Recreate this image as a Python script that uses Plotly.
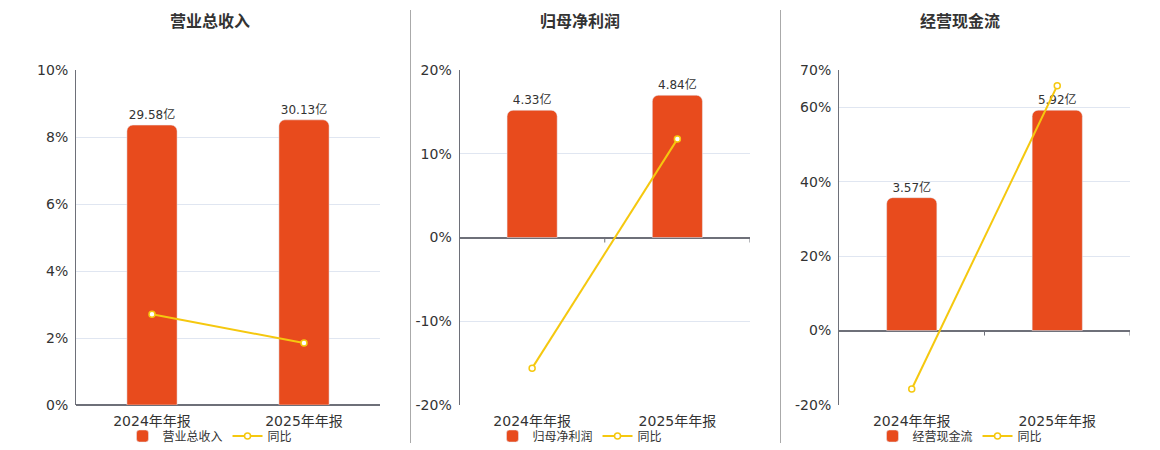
import plotly.graph_objects as go

# data
periods = ["2024年年报", "2025年年报"]

titles = ["营业总收入", "归母净利润", "经营现金流"]
bar_values = [
    [29.58, 30.13],   # 营业总收入 (亿)
    [4.33, 4.84],     # 归母净利润 (亿)
    [3.57, 5.92],     # 经营现金流 (亿)
]
yoy_values = [
    [2.71, 1.85],     # 同比 %
    [-15.6, 11.75],
    [-15.7, 65.8],
]
pct_ticks = [
    [0, 2, 4, 6, 8, 10],
    [-20, -10, 0, 10, 20],
    [-20, 0, 20, 40, 60, 70],
]
pct_ranges = [[0, 10], [-20, 20], [-20, 70]]
# hidden bar axes, scaled so zero lines up with the % axis
bar_ranges = [[0, 35.4], [-5.7, 5.7], [-2.0, 7.0]]

BAR_COLOR = "#E84B1D"
LINE_COLOR = "#F5C80F"
AXIS_COLOR = "#6E7079"
GRID_COLOR = "#E0E6F1"
TEXT_COLOR = "#333333"
FONT = "DejaVu Sans, Noto Sans CJK SC, sans-serif"

W, H = 1160, 450
x_domains = [[76 / W, 380 / W], [459.5 / W, 750 / W], [839 / W, 1130 / W]]
y_domain = [45 / H, 380 / H]
centers = [210 / W, 580 / W, 960 / W]
bar_widths = [0.33, 0.345, 0.345]

fig = go.Figure()
layout = {}
shapes = []
annotations = []

for i in range(3):
    xa = "x" if i == 0 else f"x{i + 1}"
    ya_bar = f"y{2 * i + 1}" if i > 0 else "y"
    ya_line = f"y{2 * i + 2}"
    leg = "legend" if i == 0 else f"legend{i + 1}"

    fig.add_trace(go.Bar(
        x=periods,
        y=bar_values[i],
        text=[f"{v:.2f}亿" for v in bar_values[i]],
        textposition="outside",
        textfont=dict(size=12, color=TEXT_COLOR),
        cliponaxis=False,
        width=bar_widths[i],
        marker=dict(color=BAR_COLOR, cornerradius=6),
        name=titles[i],
        xaxis=xa, yaxis=ya_bar,
        legend=leg,
        hoverinfo="skip",
    ))
    fig.add_trace(go.Scatter(
        x=periods,
        y=yoy_values[i],
        mode="lines+markers",
        line=dict(color=LINE_COLOR, width=2),
        marker=dict(symbol="circle", size=6, color="white",
                    line=dict(color=LINE_COLOR, width=1.5)),
        name="同比",
        xaxis=xa, yaxis=ya_line,
        legend=leg,
        cliponaxis=False,
    ))

    xkey = "xaxis" if i == 0 else f"xaxis{i + 1}"
    ybkey = "yaxis" if i == 0 else f"yaxis{2 * i + 1}"
    ylkey = f"yaxis{2 * i + 2}"

    layout[xkey] = dict(
        domain=x_domains[i], anchor=ya_bar,
        type="category", range=[-0.5, 1.5],
        showline=False, showgrid=False, ticks="",
        tickfont=dict(size=14, color=TEXT_COLOR),
        ticklabelstandoff=6, automargin=False,
    )
    layout[ybkey] = dict(
        domain=y_domain, anchor=xa, range=bar_ranges[i],
        showgrid=False, showticklabels=False, ticks="", showline=False,
        zeroline=True, zerolinecolor=AXIS_COLOR, zerolinewidth=2,
        automargin=False,
    )
    layout[ylkey] = dict(
        domain=y_domain, anchor=xa, overlaying=ya_bar, side="left",
        range=pct_ranges[i], tickvals=pct_ticks[i],
        ticktext=[f"{t}%" for t in pct_ticks[i]],
        tickfont=dict(size=14, color=TEXT_COLOR),
        showgrid=True, gridcolor=GRID_COLOR, gridwidth=1,
        zeroline=False,
        showline=True, linecolor=AXIS_COLOR, linewidth=1,
        ticks="", ticklabelstandoff=4, automargin=False,
    )
    layout[leg] = dict(
        orientation="h", x=centers[i], xanchor="center",
        y=14 / H, yanchor="middle",
        font=dict(size=12, color=TEXT_COLOR, family=FONT),
        bgcolor="rgba(0,0,0,0)", itemwidth=30, tracegroupgap=0,
    )

    annotations.append(dict(
        text=f"<b>{titles[i]}</b>", x=centers[i], y=1 - 22 / H,
        xref="paper", yref="paper", showarrow=False,
        xanchor="center", yanchor="middle",
        font=dict(size=16, color=TEXT_COLOR, family=FONT),
    ))

    # small ticks on the zero line at the category boundaries
    for b in [0.5, 1.5]:
        shapes.append(dict(
            type="line", xref=xa, yref=ya_line,
            x0=b, x1=b, ysizemode="pixel", yanchor=0, y0=0, y1=-5,
            line=dict(color=AXIS_COLOR, width=1),
        ))

# panel dividers
for xd in [410.5 / W, 780.5 / W]:
    shapes.append(dict(
        type="line", xref="paper", yref="paper",
        x0=xd, x1=xd, y0=7 / H, y1=1 - 10 / H,
        line=dict(color="#AAAAAA", width=1),
    ))

fig.update_layout(
    width=W, height=H,
    margin=dict(l=0, r=0, t=0, b=0, autoexpand=False),
    paper_bgcolor="white", plot_bgcolor="white",
    font=dict(family=FONT, color=TEXT_COLOR),
    shapes=shapes, annotations=annotations,
    showlegend=True,
    **layout,
)

fig.write_html("out.html",
               config={"displayModeBar": False},
               post_script="document.body.style.margin='0';")
